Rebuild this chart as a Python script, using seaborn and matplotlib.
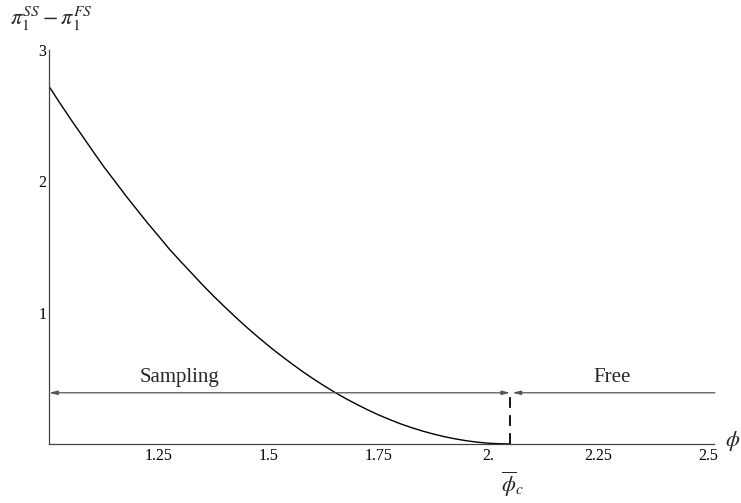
import matplotlib
matplotlib.use("Agg")
import matplotlib.pyplot as plt
import seaborn as sns
import pandas as pd

# data
phi = [1.000, 1.025, 1.050, 1.075, 1.100, 1.125, 1.150, 1.175, 1.200, 1.225,
       1.250, 1.275, 1.300, 1.325, 1.350, 1.375, 1.400, 1.425, 1.450, 1.475,
       1.500, 1.525, 1.550, 1.575, 1.600, 1.625, 1.650, 1.675, 1.700, 1.725,
       1.750, 1.775, 1.800, 1.825, 1.850, 1.875, 1.900, 1.925, 1.950, 1.975,
       2.000, 2.025, 2.050]
diff = [2.723, 2.595, 2.470, 2.350, 2.229, 2.110, 2.001, 1.890, 1.785, 1.680,
        1.581, 1.480, 1.389, 1.300, 1.210, 1.125, 1.044, 0.965, 0.889, 0.817,
        0.747, 0.681, 0.618, 0.557, 0.500, 0.446, 0.395, 0.347, 0.303, 0.261,
        0.222, 0.187, 0.154, 0.125, 0.099, 0.076, 0.056, 0.039, 0.025, 0.014,
        0.006, 0.002, 0.000]
phi_c = 2.05
arrow_level = 0.39
x_ticks = [1.25, 1.5, 1.75, 2.0, 2.25, 2.5]
x_tick_labels = ["1.25", "1.5", "1.75", "2.", "2.25", "2.5"]
y_ticks = [1, 2, 3]
y_tick_labels = ["1", "2", "3"]
region_labels = ["Sampling", "Free"]

sns.set_theme(style="white")
plt.rcParams["font.family"] = ["Liberation Serif", "DejaVu Serif"]
plt.rcParams["mathtext.fontset"] = "stix"

W, H = 741, 503
fig = plt.figure(figsize=(W / 100, H / 100), dpi=100)
ax = fig.add_axes([49 / W, 59 / H, 665 / W, 394 / H])

df = pd.DataFrame({"phi": phi, "diff": diff})
sns.lineplot(data=df, x="phi", y="diff", ax=ax, color="black", linewidth=1.0,
             estimator=None, sort=False)

ax.set_xlim(1.0, 2.514)
ax.set_ylim(0, 3.0)

for s in ["top", "right"]:
    ax.spines[s].set_visible(False)
for s in ["left", "bottom"]:
    ax.spines[s].set_color("#444444")
    ax.spines[s].set_linewidth(0.9)

ax.set_xticks(x_ticks)
ax.set_xticklabels(x_tick_labels)
ax.set_yticks(y_ticks)
ax.set_yticklabels(y_tick_labels)
ax.tick_params(axis="both", direction="in", length=3, width=0.8, color="#444444",
               labelsize=11.5, labelcolor="black")
ax.tick_params(axis="x", pad=3)
ax.tick_params(axis="y", pad=2)
ax.set_xlabel("")
ax.set_ylabel("")

# dashed vertical line at phi_c
ax.plot([phi_c, phi_c], [0, arrow_level], color="black", linewidth=1.3,
        linestyle=(0, (6, 4)), clip_on=False)

# arrows
ax.annotate("", xy=(1.0, arrow_level), xytext=(phi_c, arrow_level),
            arrowprops=dict(arrowstyle="<|-|>,head_length=0.4,head_width=0.1",
                            color="#555555", lw=0.9, shrinkA=0, shrinkB=0),
            annotation_clip=False)
ax.annotate("", xy=(phi_c + 0.005, arrow_level), xytext=(2.516, arrow_level),
            arrowprops=dict(arrowstyle="-|>,head_length=0.4,head_width=0.1",
                            color="#555555", lw=0.9, shrinkA=0, shrinkB=0),
            annotation_clip=False)

ax.text(1.298, 0.435, region_labels[0], ha="center", va="bottom", fontsize=15)
ax.text(2.282, 0.435, region_labels[1], ha="center", va="bottom", fontsize=15)

# axis labels
fig.text(10 / W, 1 - 19 / H, r"$\pi_1^{SS}-\pi_1^{FS}$", ha="left", va="center",
         fontsize=16)
fig.text(733 / W, 1 - 441 / H, r"$\phi$", ha="center", va="center", fontsize=16)
fig.text(512 / W, 1 - 484 / H, r"$\overline{\phi}_c$", ha="center", va="center",
         fontsize=16)

fig.savefig("out.png", dpi=100)
